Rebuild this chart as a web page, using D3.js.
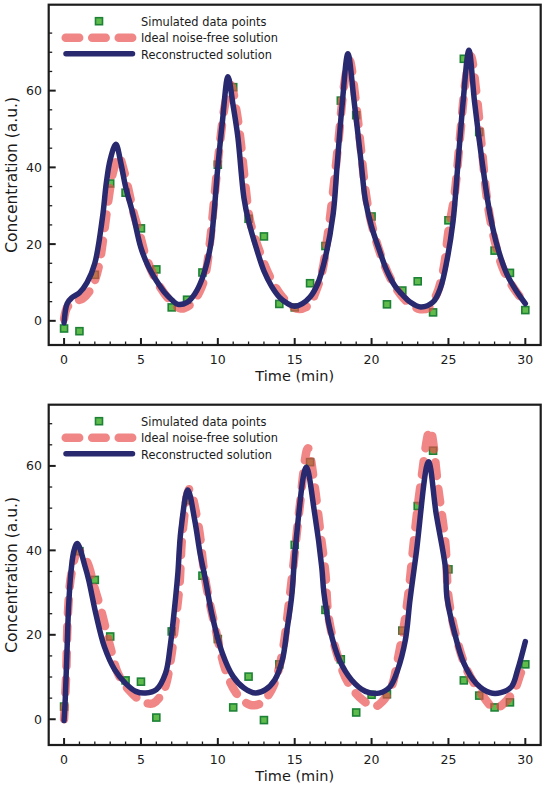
<!DOCTYPE html>
<html><head><meta charset="utf-8">
<script src="https://cdn.jsdelivr.net/npm/d3@7"></script>
<style>
body{margin:0;background:#fff}
svg{display:block}
text{font-family:"DejaVu Sans",Verdana,sans-serif;fill:#1a1a1a}
</style>
</head><body>
<svg id="chart" width="546" height="786"></svg>
<script>
// ---------- DATA ----------
const sampleTimes = [0,1,2,3,4,5,6,7,8,9,10,11,12,13,14,15,16,17,18,19,20,21,22,23,24,25,26,27,28,29,30];

// Panel A (top)
const pointsA = [-2.0,-2.7,12.0,35.8,33.4,24.1,13.4,3.5,5.5,12.6,40.7,60.9,26.6,22.0,4.4,3.5,9.8,19.5,57.4,53.6,27.2,4.3,7.9,10.3,2.2,26.2,68.3,49.2,18.3,12.5,2.8];

const idealTimesA = [0,0.2,0.6,1.2,1.7,2.0,2.3,2.6,2.9,3.2,3.55,3.9,4.2,4.5,4.9,5.3,6.0,6.9,7.6,8.3,8.85,9.2,9.5,9.75,10.1,10.5,10.85,11.2,11.45,11.8,12.1,12.7,13.4,14.2,15.1,15.9,16.4,16.8,17.1,17.45,17.85,18.2,18.55,18.95,19.3,19.6,19.9,20.5,21.3,22.1,23.0,23.7,24.25,24.7,25.0,25.4,25.8,26.1,26.45,26.8,27.15,27.5,28.0,28.6,29.3,30.0];
const idealValuesA = [0.5,3.5,5.0,5.8,8.0,10.5,15,23,32,39,43,39,34,28.5,23,17,10.5,5.3,3.2,4.5,7.9,12.2,20.9,31,45,57,61.5,55,48,35,26,18.3,11.4,6.2,3.2,4.0,7.9,13.1,20.9,32,47,61,68,58,45,34,27,18.3,10.5,5.8,3.2,3.4,7.1,14,23.4,33,50,62,69,60,46,32,21,13.1,8.2,4.5];

const reconTimesA = [0,0.2,0.5,1,1.5,2,2.5,2.75,3.0,3.37,3.7,4,4.5,5,5.5,6,6.5,7,7.4,8,8.5,9,9.5,9.75,10,10.3,10.66,11,11.3,11.7,12,12.5,13,13.5,14,14.5,15,15.5,16,16.5,17,17.5,17.75,18.1,18.46,18.87,19.3,19.6,20,20.5,21,21.5,22,22.5,23.2,24,24.5,24.9,25.3,25.6,25.95,26.33,26.7,27.24,27.7,28.2,28.8,29.4,30];
const reconValuesA = [-0.5,4.5,6.0,7.3,10,15,27,36,42,46,41,35,27.5,19,14,10.5,7.6,5.5,4.3,4.8,7.0,11.2,19,28,40,52,63.6,56,48,32,26,19,13,9,6.2,4.6,3.8,4.5,6.2,9.7,16.6,27.8,40,57,69.6,57,42,31.4,24.5,18.5,13,9.2,6.8,4.9,3.6,4.9,8.8,15.7,26,40,57,70.5,57,40,27.8,19.1,12.2,7.9,4.5];

// Panel B (bottom)
const pointsB = [3.0,39.8,33.0,19.6,9.2,8.9,0.4,20.8,51.9,34.0,19.0,2.8,10.1,-0.2,13.0,41.3,60.9,25.9,14.2,1.6,5.8,5.9,21.0,50.5,63.6,35.5,9.2,5.6,2.8,4.0,13.0];

const idealTimesB = [0,0.14,0.25,0.48,0.93,1.5,1.95,2.4,3.0,3.5,4.2,5.1,5.8,6.5,6.9,7.26,7.5,7.7,8.15,8.75,9.07,9.3,9.86,10.5,11.2,12.1,12.8,13.5,13.95,14.3,14.6,14.95,15.3,15.86,16.3,16.65,17.0,17.2,17.8,18.5,19.4,20.2,20.7,21.3,21.7,22.1,22.4,22.76,23.2,23.8,24.35,24.8,25.0,25.5,26.2,27.1,28.0,28.5,29.3,29.7,30.0];
const idealValuesB = [0,10.9,25,34.5,40,37.2,31.5,25.9,17.2,10.9,7.0,4.2,3.8,7.0,13.3,23.6,31.5,44,54.5,45.6,36,30.7,21.2,11.7,6.2,3.4,3.8,7.0,11.7,18,26.7,37.6,49.5,64.2,55.1,44.8,34.4,24.3,14.9,8.5,4.6,3.0,4.2,7.7,14.1,22,29.9,42.4,55.9,68.6,54.3,41.6,29,19.6,11.7,6.2,2.6,3.4,7.0,10.9,13.3];

const reconTimesB = [0,0.08,0.18,0.3,0.45,0.65,0.86,1.38,1.6,2.06,2.62,3.3,4.0,4.66,5.3,6.0,6.6,6.9,7.26,7.4,7.6,8.05,8.5,8.85,9.2,9.6,10.3,11.0,11.7,12.45,13.1,13.7,14.2,14.5,14.8,15.07,15.75,16.3,16.76,16.9,17.3,17.9,18.7,19.6,20.5,21.2,21.7,22.2,22.5,22.9,23.7,24.2,24.8,24.9,25.4,26.0,26.8,27.7,28.4,29.1,29.5,30.0];
const reconValuesB = [-0.3,5,15,27,35,40,41.6,36,33,25.1,17.2,11.7,8.5,6.6,6.2,7.0,10.9,17.2,29,34.5,44.8,54.3,47.1,39.2,33,25.1,15.6,10.1,7.4,6.2,7.0,9.3,14.1,21.2,29,41.6,59.7,48.7,36,29.9,21.2,14.1,9.3,6.6,6.2,7.7,11.7,18.8,28.3,39.2,61,48.7,36,29,20.4,13.3,8.5,6.3,6.3,7.7,11.7,18.4];

const xMajorTicks = [0,5,10,15,20,25,30];
const yMajorTicks = [0,20,40,60];
const legendLabels = ["Simulated data points","Ideal noise-free solution","Reconstructed solution"];
const xTitle = "Time (min)";
const yTitle = "Concentration (a.u.)";

// ---------- STYLE ----------
const C = {
  frame:"#1c1c1c",
  pink:"rgb(234,76,76)", pinkOpacity:0.68,
  navy:"#29296f",
  green:"#5fbb4c", greenStroke:"#1d8236"
};

const svg = d3.select("#chart");
const left = 48.7, right = 540.7;

const panels = [
  {top:4.7, bottom:345, yDomain:[-6.3,82.4], yMinorMax:75, pts:pointsA,
   ideal:{t:idealTimesA,v:idealValuesA}, recon:{t:reconTimesA,v:reconValuesA}},
  {top:404.7, bottom:745, yDomain:[-6.1,74.5], yMinorMax:70, pts:pointsB,
   ideal:{t:idealTimesB,v:idealValuesB}, recon:{t:reconTimesB,v:reconValuesB}}
];

panels.forEach((p,pi)=>{
  const x = d3.scaleLinear().domain([-1,31]).range([left,right]);
  const y = d3.scaleLinear().domain(p.yDomain).range([p.bottom,p.top]);
  const g = svg.append("g");

  const clipId = "clip"+pi;
  svg.append("clipPath").attr("id",clipId).append("rect")
    .attr("x",left).attr("y",p.top).attr("width",right-left).attr("height",p.bottom-p.top);
  const plot = g.append("g").attr("clip-path",`url(#${clipId})`);

  const line = d3.line().x(d=>x(d[0])).y(d=>y(d[1])).curve(d3.curveCatmullRom.alpha(0.5));

  // markers
  const ms = 7;
  plot.selectAll("rect.pt").data(sampleTimes.map((t,i)=>[t,p.pts[i]])).join("rect")
    .attr("x",d=>x(d[0])-ms/2).attr("y",d=>y(d[1])-ms/2)
    .attr("width",ms).attr("height",ms)
    .attr("fill",C.green).attr("stroke",C.greenStroke).attr("stroke-width",1.6);

  // ideal dashed
  plot.append("path").datum(p.ideal.t.map((t,i)=>[t,p.ideal.v[i]]))
    .attr("d",line).attr("fill","none").attr("stroke",C.pink)
    .attr("stroke-opacity",C.pinkOpacity)
    .attr("stroke-width",8.5).attr("stroke-linecap","round")
    .attr("stroke-dasharray","13.5,13");

  // reconstructed
  plot.append("path").datum(p.recon.t.map((t,i)=>[t,p.recon.v[i]]))
    .attr("d",line).attr("fill","none").attr("stroke",C.navy)
    .attr("stroke-width",5.5).attr("stroke-linecap","round").attr("stroke-linejoin","round");

  // ticks (inward)
  const tk = g.append("g").attr("stroke",C.frame);
  const xMinor = sampleTimes.filter(t=>xMajorTicks.indexOf(t)<0);
  xMajorTicks.forEach(t=>tk.append("line").attr("x1",x(t)).attr("x2",x(t)).attr("y1",p.bottom).attr("y2",p.bottom-7).attr("stroke-width",2));
  xMinor.forEach(t=>tk.append("line").attr("x1",x(t)).attr("x2",x(t)).attr("y1",p.bottom).attr("y2",p.bottom-3.5).attr("stroke-width",1.3));
  const yMinor = d3.range(5,p.yMinorMax+1,5).filter(v=>yMajorTicks.indexOf(v)<0);
  yMajorTicks.forEach(v=>tk.append("line").attr("x1",left).attr("x2",left+7).attr("y1",y(v)).attr("y2",y(v)).attr("stroke-width",2));
  yMinor.forEach(v=>tk.append("line").attr("x1",left).attr("x2",left+3.5).attr("y1",y(v)).attr("y2",y(v)).attr("stroke-width",1.3));

  // frame
  g.append("rect").attr("x",left).attr("y",p.top).attr("width",right-left).attr("height",p.bottom-p.top)
    .attr("fill","none").attr("stroke",C.frame).attr("stroke-width",2.2);

  // tick labels
  xMajorTicks.forEach(t=>g.append("text").attr("x",x(t)).attr("y",p.bottom+18.8)
    .attr("text-anchor","middle").attr("font-size",12.5).text(t));
  yMajorTicks.forEach(v=>g.append("text").attr("x",42).attr("y",y(v)+4.5)
    .attr("text-anchor","end").attr("font-size",12.5).text(v));

  // titles
  g.append("text").attr("x",(left+right)/2).attr("y",p.bottom+36)
    .attr("text-anchor","middle").attr("font-size",14.5).text(xTitle);
  g.append("text").attr("transform",`translate(16.5,${(p.top+p.bottom)/2}) rotate(-90)`)
    .attr("text-anchor","middle").attr("font-size",15.5).text(yTitle);

  // legend
  const ly = p.top;
  const lg = g.append("g");
  lg.append("rect").attr("x",99-ms/2).attr("y",ly+16.5-ms/2).attr("width",ms).attr("height",ms)
    .attr("fill",C.green).attr("stroke",C.greenStroke).attr("stroke-width",1.6);
  lg.append("line").attr("x1",65.7).attr("x2",132.2).attr("y1",ly+33).attr("y2",ly+33)
    .attr("stroke",C.pink).attr("stroke-opacity",C.pinkOpacity).attr("stroke-width",8.5)
    .attr("stroke-linecap","round").attr("stroke-dasharray","13.5,13");
  lg.append("line").attr("x1",66).attr("x2",132.5).attr("y1",ly+49).attr("y2",ly+49)
    .attr("stroke",C.navy).attr("stroke-width",5.5).attr("stroke-linecap","round");
  legendLabels.forEach((s,i)=>lg.append("text").attr("x",141).attr("y",ly+20.8+i*16.6)
    .attr("font-size",11.4).text(s));
});
</script>
</body></html>
